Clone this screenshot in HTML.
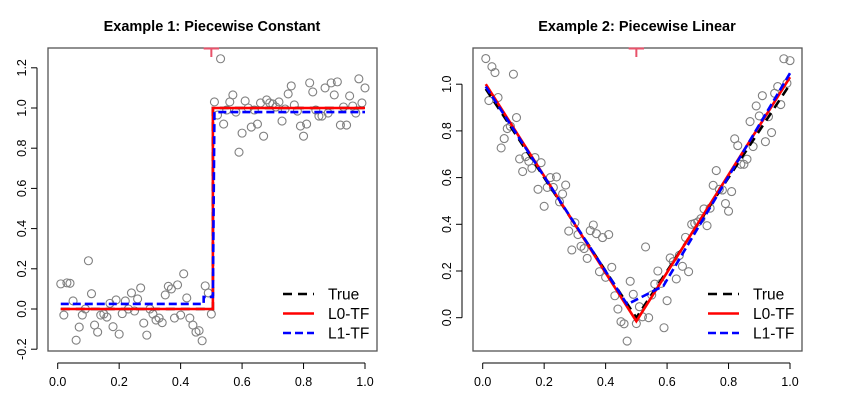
<!DOCTYPE html>
<html><head><meta charset="utf-8"><style>
html,body{margin:0;padding:0;background:#fff;}
svg{display:block;font-family:"Liberation Sans",sans-serif;}
</style></head><body>
<svg id="chart" width="850" height="400" viewBox="0 0 850 400"></svg>
<script>
// Example 1 data
const xs1 = Array.from({length:100},(_,i)=>(i+1)/100);
const ys1 = [0.125,-0.03,0.13,0.128,0.04,-0.155,-0.09,-0.03,0.0,0.24,0.076,-0.08,-0.115,-0.03,-0.025,-0.04,0.028,-0.088,0.045,-0.125,
-0.023,0.04,0.0,0.08,-0.01,0.05,0.105,-0.07,-0.13,0.0,-0.025,-0.055,-0.045,-0.068,0.07,0.113,0.1,-0.045,0.12,-0.03,
0.175,0.055,-0.045,-0.08,-0.115,-0.108,-0.158,0.115,0.08,-0.025,
1.03,0.965,1.245,0.92,0.99,1.03,1.065,0.98,0.78,0.875,1.035,1.0,0.905,0.99,0.92,1.025,0.86,1.04,1.025,1.02,
1.005,1.03,0.935,0.995,1.07,1.11,1.015,0.985,0.91,0.86,0.92,1.125,1.08,0.99,0.96,0.96,1.1,0.975,1.125,1.065,
1.13,0.915,1.005,0.915,1.06,1.01,0.975,1.145,1.025,1.1];
const true1X = [0.01,0.505,0.505,1.0];
const true1Y = [0,0,1,1];
const l01X = [0.01,0.505,0.505,1.0];
const l01Y = [0,0,1,1];
const l11X = [0.01,0.475,0.475,0.505,0.51,1.0];
const l11Y = [0.025,0.025,0.06,0.06,0.98,0.98];
// Example 2 data
const xs2 = xs1;
const ys2 = [1.11,0.93,1.075,1.05,0.943,0.727,0.767,0.81,0.82,1.043,0.857,0.68,0.626,0.69,0.67,0.64,0.686,0.55,0.664,0.477,
0.558,0.6,0.558,0.603,0.496,0.53,0.568,0.371,0.29,0.407,0.356,0.306,0.296,0.254,0.373,0.397,0.36,0.197,0.343,0.173,
0.356,0.216,0.094,0.037,-0.017,-0.026,-0.1,0.156,0.1,-0.025,0.047,0.004,0.303,0.0,0.097,0.144,0.2,0.147,-0.043,0.073,
0.256,0.24,0.166,0.267,0.22,0.344,0.197,0.4,0.404,0.41,0.424,0.466,0.394,0.469,0.567,0.63,0.55,0.547,0.489,0.456,
0.54,0.766,0.737,0.657,0.657,0.679,0.84,0.733,0.907,0.864,0.951,0.754,0.861,0.793,0.961,0.99,0.913,1.109,1.004,1.101];
const true2X = [0.01,0.5,1.0];
const true2Y = [0.98,0,1.0];
const l02X = [0.01,0.5,1.0];
const l02Y = [1.0,-0.015,1.03];
const l12X = [0.01,0.47,0.588,1.0];
const l12Y = [0.99,0.057,0.136,1.047];
const xTicks = [0,0.2,0.4,0.6,0.8,1.0];
const xTickLabels = ["0.0","0.2","0.4","0.6","0.8","1.0"];
const yTicks1 = [-0.2,0,0.2,0.4,0.6,0.8,1.0,1.2];
const yTickLabels1 = ["-0.2","0.0","0.2","0.4","0.6","0.8","1.0","1.2"];
const yTicks2 = [0,0.2,0.4,0.6,0.8,1.0];
const yTickLabels2 = ["0.0","0.2","0.4","0.6","0.8","1.0"];
const legendLabels = ["True","L0-TF","L1-TF"];

const NS="http://www.w3.org/2000/svg";
const svg=document.getElementById('chart');
function mk(tag,attrs,parent){const e=document.createElementNS(NS,tag);for(const k in attrs)e.setAttribute(k,attrs[k]);(parent||svg).appendChild(e);return e;}

function panel(p){
  const g=mk('g',{});
  
  
  const sx=v=>p.x0+(p.x1-p.x0)*v;
  const sy=v=>p.yz-(p.yz-p.yo)*v/p.yov;
  const t=mk('text',{x:p.tx,y:31,'text-anchor':'middle','font-size':'14.5','font-weight':'bold',fill:'#000'},g);
  t.textContent=p.title;
  
  
  const box=mk('rect',{x:p.bl,y:48,width:p.br-p.bl,height:303,fill:'none',stroke:'#555','stroke-width':1.3},g);
  
  
  const xa=mk('g',{},g);
  
  
  mk('line',{x1:sx(0),x2:sx(1),y1:363,y2:363,stroke:'#000'},xa);
  xTicks.forEach((v,i)=>{
    mk('line',{x1:sx(v),x2:sx(v),y1:363,y2:369,stroke:'#000'},xa);
    const tl=mk('text',{x:sx(v),y:386,'text-anchor':'middle','font-size':'12.5',fill:'#000'},xa);
    tl.textContent=xTickLabels[i];
    
    
  });
  const ya=mk('g',{},g);
  
  
  mk('line',{x1:p.bl-11,x2:p.bl-11,y1:sy(p.yt[0]),y2:sy(p.yt[p.yt.length-1]),stroke:'#000'},ya);
  p.yt.forEach((v,i)=>{
    const y=sy(v);
    mk('line',{x1:p.bl-17,x2:p.bl-11,y1:y,y2:y,stroke:'#000'},ya);
    const tl=mk('text',{x:0,y:0,'text-anchor':'middle','font-size':'12.5',fill:'#000',transform:`translate(${p.bl-22},${y}) rotate(-90)`},ya);
    tl.textContent=p.ytl[i];
    
    
  });
  const rm=mk('path',{d:`M${sx(0.475)},48.5 H${sx(0.525)} M${sx(0.5)},48.5 V57`,stroke:'#e8526a','stroke-width':2,fill:'none'},g);
  
  
  const pts=mk('g',{},g);
  
  
  p.xs.forEach((x,i)=>{
    const c=mk('circle',{cx:sx(x),cy:sy(p.ys[i]),r:4,fill:'none',stroke:'#808080','stroke-width':1.1},pts);
    
    
  });
  function line(X,Y,col,dash,name){
    const d=X.map((x,i)=>(i?'L':'M')+sx(x)+','+sy(Y[i])).join(' ');
    const l=mk('path',{d:d,fill:'none',stroke:col,'stroke-width':2.6,'stroke-dasharray':dash},g);
    
    
  }
  line(p.tX,p.tY,'#000','9,6','true-line');
  line(p.l0X,p.l0Y,'#ff0000','none','l0-tf-line');
  line(p.l1X,p.l1Y,'#0000ff','8,4','l1-tf-line');
  const lg=mk('g',{},g);
  
  
  const cols=['#000','#ff0000','#0000ff'],dashes=['9,6','none','8,4'];
  legendLabels.forEach((lab,i)=>{
    const y=294+19.5*i;
    const e=mk('g',{},lg);
    
    
    mk('line',{x1:p.bl+235,x2:p.bl+266,y1:y,y2:y,stroke:cols[i],'stroke-width':2.6,'stroke-dasharray':dashes[i]},e);
    const tt=mk('text',{x:p.bl+280,y:y+5.5,'font-size':'15.5',fill:'#000'},e);
    tt.textContent=lab;
  });
}
panel({name:'panel-piecewise-constant',title:'Example 1: Piecewise Constant',tx:212,bl:48,br:377,x0:57.7,x1:365,yz:309,yo:268.8,yov:0.2,
  yt:yTicks1,ytl:yTickLabels1,xs:xs1,ys:ys1,tX:true1X,tY:true1Y,l0X:l01X,l0Y:l01Y,l1X:l11X,l1Y:l11Y});
panel({name:'panel-piecewise-linear',title:'Example 2: Piecewise Linear',tx:637,bl:473,br:802,x0:482.7,x1:790,yz:317.7,yo:271.0,yov:0.2,
  yt:yTicks2,ytl:yTickLabels2,xs:xs2,ys:ys2,tX:true2X,tY:true2Y,l0X:l02X,l0Y:l02Y,l1X:l12X,l1Y:l12Y});
</script>
</body></html>
